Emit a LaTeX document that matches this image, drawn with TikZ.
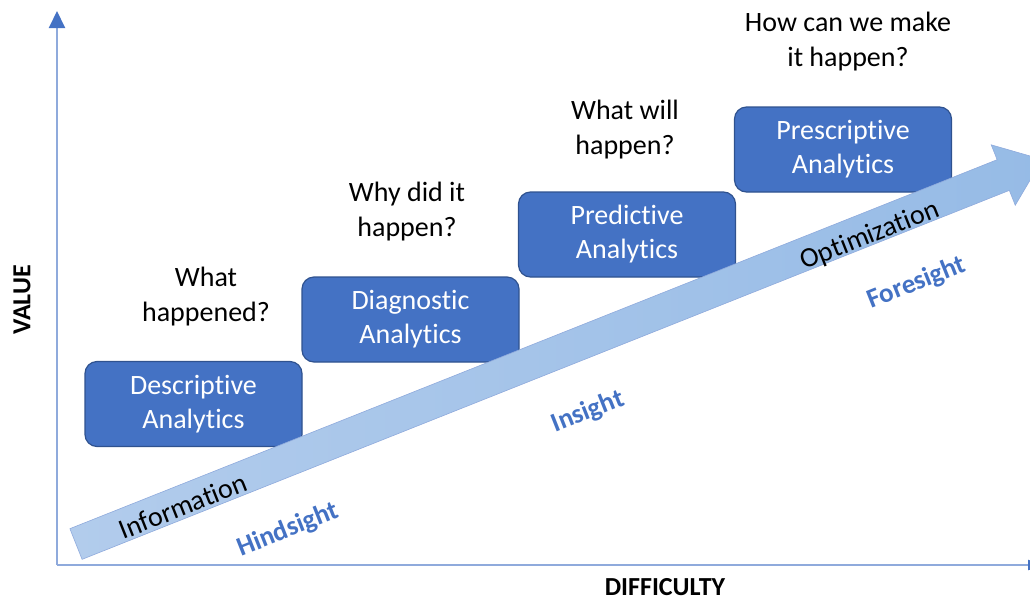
\documentclass[tikz,border=0pt]{standalone}
\usepackage{fontspec}
\setmainfont{Carlito}[RawFeature=-liga]
\usetikzlibrary{arrows.meta}
\definecolor{boxblue}{HTML}{4472C4}
\definecolor{boxedge}{HTML}{2F528F}
\definecolor{axisblue}{HTML}{8FAADC}
\definecolor{arrowlight}{RGB}{178,204,236}
\definecolor{arrowdark}{RGB}{150,187,230}

\begin{document}
\begin{tikzpicture}[x=1pt, y=-1pt,
    stage/.style={draw=boxedge, line width=1.2pt, fill=boxblue, rounded corners=12pt, minimum width=217pt, minimum height=85pt, text=white, align=center, font=\fontsize{28}{34}\selectfont},
    question/.style={align=center, font=\fontsize{28}{35}\selectfont},
    onarrow/.style={rotate=21.7, font=\fontsize{28}{30}\selectfont},
    phase/.style={rotate=21.7, text=boxblue, font=\fontsize{27}{30}\selectfont\bfseries},
    axislabel/.style={inner sep=1pt, font=\fontsize{26}{30}\selectfont\bfseries}
  ]
  \clip (0,0) rectangle (1030,600);

  % Axes
  \coordinate (origin) at (57,565);
  \coordinate (ytop) at (57,11);
  \coordinate (xend) at (1045,565);
  \draw[axisblue, line width=2pt, -{Triangle[length=17pt, width=16pt, color=boxblue]}] (origin) -- (ytop);
  \draw[axisblue, line width=2pt, -{Triangle[length=17pt, width=10pt, color=boxblue]}] (origin) -- (xend);
  \node[axislabel, rotate=90] (value) at (22,300) {VALUE};
  \node[axislabel] (difficulty) at (665,587) {DIFFICULTY};

  % Analytics boxes
  \node[stage] (descriptive) at (193.5,404) {Descriptive\\Analytics};
  \node[stage] (diagnostic) at (410.5,319.5) {Diagnostic\\Analytics};
  \node[stage] (predictive) at (627,234.5) {Predictive\\Analytics};
  \node[stage] (prescriptive) at (843,149.5) {Prescriptive\\Analytics};

  % Questions
  \node[question] (whathappened) at (206,297) {What\\happened?};
  \node[question] (whydid) at (407,212) {Why did it\\happen?};
  \node[question] (whatwill) at (625,130) {What will\\happen?};
  \node[question] (howcan) at (848,42) {How can we make\\it happen?};

  % Big arrow
  \begin{scope}[shift={(76,544)}, rotate=21.7]
    \draw[axisblue, line width=0.6pt, left color=arrowlight, right color=arrowdark]
      (0,-16.5) -- (998,-16.5) -- (998,-32.5) -- (1040,0) -- (998,32.5) -- (998,16.5) -- (0,16.5) -- cycle;
  \end{scope}

  % Arrow labels
  \node[onarrow] (information) at (183,506) {Information};
  \node[onarrow] (optimization) at (870,236) {Optimization};
  \node[phase] (hindsight) at (288,530) {Hindsight};
  \node[phase] (insight) at (588,412) {Insight};
  \node[phase] (foresight) at (917,283) {Foresight};
\end{tikzpicture}
\end{document}
